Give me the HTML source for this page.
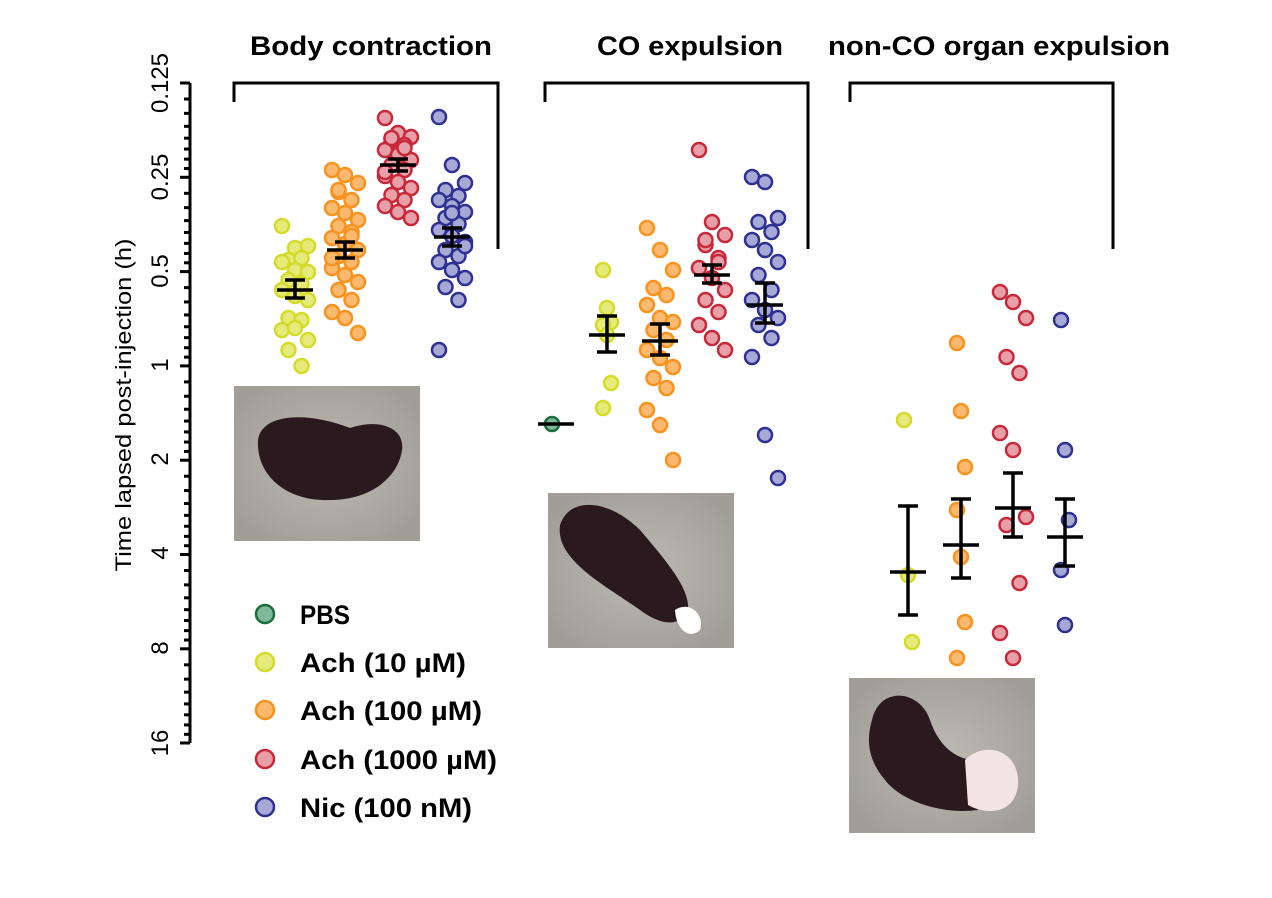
<!DOCTYPE html><html><head><meta charset="utf-8"><style>body{margin:0;background:#fff}svg{display:block}</style></head><body>
<svg width="1272" height="898" viewBox="0 0 1272 898" font-family="Liberation Sans, sans-serif">
<defs>
<radialGradient id="g1" cx="0.5" cy="0.5" r="0.6"><stop offset="0" stop-color="#bdbab3"/><stop offset="1" stop-color="#a19e97"/></radialGradient>
</defs>
<line x1="190" y1="83" x2="190" y2="743" stroke="#000" stroke-width="3"/>
<g id="ticks" stroke="#000" stroke-width="3"></g>
<g font-size="24" fill="#000" text-anchor="middle">
<text transform="translate(168,83) rotate(-90)">0.125</text>
<text transform="translate(168,177) rotate(-90)">0.25</text>
<text transform="translate(168,271) rotate(-90)">0.5</text>
<text transform="translate(168,365) rotate(-90)">1</text>
<text transform="translate(168,459) rotate(-90)">2</text>
<text transform="translate(168,553) rotate(-90)">4</text>
<text transform="translate(168,648) rotate(-90)">8</text>
<text transform="translate(168,743) rotate(-90)">16</text>
<text transform="translate(131,405) rotate(-90)" font-size="22" textLength="333" lengthAdjust="spacingAndGlyphs">Time lapsed post-injection (h)</text>
</g>
<g font-size="27" font-weight="bold" text-anchor="middle">
<text x="371" y="55" textLength="242" lengthAdjust="spacingAndGlyphs">Body contraction</text>
<text x="690" y="55" textLength="186" lengthAdjust="spacingAndGlyphs">CO expulsion</text>
<text x="999" y="55" textLength="342" lengthAdjust="spacingAndGlyphs">non-CO organ expulsion</text>
</g>
<g fill="none" stroke="#000" stroke-width="3">
<path d="M234,102V83H498V249"/><path d="M545,102V83H808V249"/><path d="M850,102V83H1113V249"/>
</g>
<rect x="234" y="386" width="186" height="155" fill="url(#g1)"/>
<path d="M258,440 C262,412 310,412 350,428 C380,418 405,428 402,450 C398,478 370,500 330,500 C290,502 256,478 258,440Z" fill="#2a1a20"/>
<rect x="548" y="493" width="186" height="155" fill="url(#g1)"/>
<path d="M560,525 C570,495 610,500 640,530 C670,565 690,590 688,610 C680,628 660,625 640,610 C605,585 555,560 560,525Z" fill="#2a1a20"/>
<path d="M675,610 C690,600 705,615 700,630 C690,640 676,630 675,610Z" fill="#fff"/>
<rect x="849" y="678" width="186" height="155" fill="url(#g1)"/>
<path d="M872,720 C880,685 920,690 930,720 C940,750 960,760 975,760 L978,810 C940,815 900,800 885,780 C868,760 866,740 872,720Z" fill="#2a1a20"/>
<path d="M965,760 C985,740 1020,750 1018,785 C1015,815 985,815 968,805Z" fill="#f2e4e2"/>
<g id="pts"></g>
<g stroke-width="2.5">
<circle cx="265" cy="614" r="9" fill="#7fb99b" stroke="#1b6e3b"/>
<circle cx="265" cy="662" r="9" fill="#e6ea7a" stroke="#d4dc2a"/>
<circle cx="265" cy="710" r="9" fill="#fbb86f" stroke="#f7931e"/>
<circle cx="265" cy="759" r="9" fill="#e8a0a8" stroke="#c8283a"/>
<circle cx="265" cy="807" r="9" fill="#a6a9d6" stroke="#2e3192"/>
</g>
<g font-size="27" font-weight="bold">
<text x="300" y="624" textLength="50" lengthAdjust="spacingAndGlyphs">PBS</text>
<text x="300" y="672" textLength="166" lengthAdjust="spacingAndGlyphs">Ach (10 µM)</text>
<text x="300" y="720" textLength="182" lengthAdjust="spacingAndGlyphs">Ach (100 µM)</text>
<text x="300" y="769" textLength="197" lengthAdjust="spacingAndGlyphs">Ach (1000 µM)</text>
<text x="300" y="817" textLength="172" lengthAdjust="spacingAndGlyphs">Nic (100 nM)</text>
</g>
<g id="bars" stroke="#000" stroke-width="3.5" fill="none"></g>
</svg>
<script>
var t=document.getElementById('ticks'),s='';
for(var d=0;d<7;d++){var y0=83+d*94.3;s+='<line x1="180" x2="190" y1="'+y0+'" y2="'+y0+'"/>';for(var k=1;k<8;k++){var y=y0+94.3*Math.log2(1+k/8);s+='<line x1="184" x2="190" y1="'+y+'" y2="'+y+'"/>';}}
s+='<line x1="180" x2="190" y1="743" y2="743"/>';t.innerHTML=s;
var C={y:['#e6ea7a','#d4dc2a'],o:['#fbb86f','#f7931e'],r:['#e8a0a8','#c8283a'],b:['#a6a9d6','#2e3192'],g:['#7fb99b','#1b6e3b']};
var G=[
['y',295,[226,248,246,260,258,262,270,272,280,284,290,296,300,318,320,330,328,340,350,366],290,280,298],
['o',345,[170,175,183,192,200,208,213,220,226,232,238,244,250,256,262,268,275,282,290,300,312,318,333,190,236,258],250,242,258],
['r',398,[118,133,137,140,145,150,155,160,165,170,176,182,188,195,200,206,212,218,138,148,172],165,159,171],
['b',452,[117,165,183,190,196,200,206,212,218,224,230,236,242,250,256,262,270,278,287,300,350,213,246],237,228,246],
['g',556,[424],424,424,424],
['y',607,[270,308,322,325,335,383,408],335,316,352],
['o',660,[228,250,270,288,295,305,318,322,330,340,350,358,367,378,388,410,425,460],341,324,355],
['r',712,[150,222,235,245,258,268,278,290,300,312,325,338,350,240,262],275,265,283],
['b',765,[177,182,218,222,232,240,250,262,275,290,300,310,318,325,338,357,435,478],305,283,323],
['y',908,[420,575,642],572,506,615],
['o',961,[343,411,467,510,557,622,658],545,499,578],
['r',1013,[292,302,318,357,373,433,450,517,525,583,633,658],508,473,537],
['b',1065,[320,450,520,570,625],537,499,566]];
var p='',b='';
G.forEach(function(g,gi){var c=C[g[0]];g[2].forEach(function(y,i){var dx=g[2].length>8?((i*37)%5-2)*6.5:((i%3)-1)*4;p+='<circle cx="'+(g[1]+dx)+'" cy="'+y+'" r="7" fill="'+c[0]+'" stroke="'+c[1]+'" stroke-width="2.5"/>';});
var x=g[1];b+='<line x1="'+(x-18)+'" x2="'+(x+18)+'" y1="'+g[3]+'" y2="'+g[3]+'"/>';if(g[4]!=g[5]){b+='<line x1="'+x+'" x2="'+x+'" y1="'+g[4]+'" y2="'+g[5]+'"/><line x1="'+(x-10)+'" x2="'+(x+10)+'" y1="'+g[4]+'" y2="'+g[4]+'"/><line x1="'+(x-10)+'" x2="'+(x+10)+'" y1="'+g[5]+'" y2="'+g[5]+'"/>';}});
document.getElementById('pts').innerHTML=p;document.getElementById('bars').innerHTML=b;
</script>
</body></html>
